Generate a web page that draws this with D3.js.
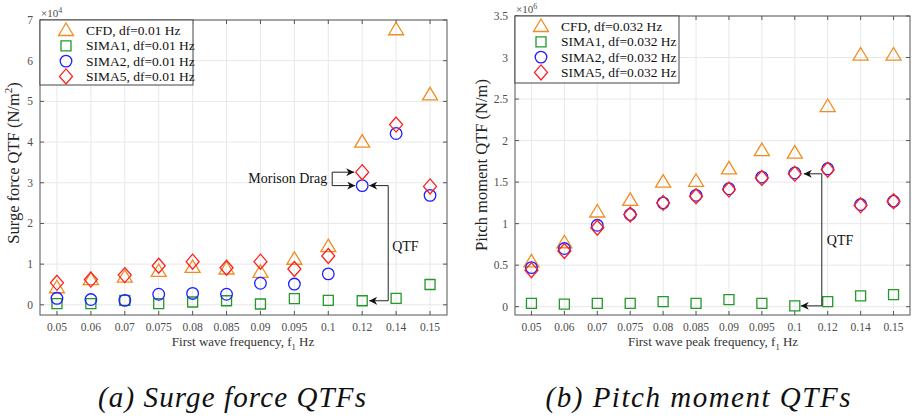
<!DOCTYPE html>
<html>
<head>
<meta charset="utf-8">
<script src="https://d3js.org/d3.v7.min.js"></script>
<style>
  body { margin: 0; padding: 0; background: #fff; }
  svg { display: block; }
  svg text { font-family: "Liberation Serif", "Tinos", "DejaVu Serif", serif; }
</style>
</head>
<body>
<svg id="fig" width="912" height="419"></svg>
<script>
// ---- data ----
const freqs = ["0.05", "0.06", "0.07", "0.075", "0.08", "0.085", "0.09", "0.095", "0.1", "0.12", "0.14", "0.15"];

// surge force QTF, x10^4 N/m^2
const surgeCFD   = [0.42, 0.62, 0.68, 0.82, 0.92, 0.88, 0.80, 1.12, 1.43, 4.00, 6.76, 5.16];
const surgeSIMA1 = [0.03, 0.03, 0.11, 0.03, 0.07, 0.10, 0.02, 0.15, 0.11, 0.10, 0.16, 0.50];
const surgeSIMA2 = [0.16, 0.13, 0.11, 0.26, 0.28, 0.26, 0.53, 0.51, 0.76, 2.93, 4.21, 2.69];
const surgeSIMA5 = [0.54, 0.62, 0.73, 0.96, 1.06, 0.91, 1.06, 0.88, 1.20, 3.26, 4.43, 2.91];

// pitch moment QTF, x10^6 N/m
const pitchCFD   = [0.54, 0.77, 1.14, 1.28, 1.50, 1.51, 1.66, 1.88, 1.85, 2.41, 3.03, 3.03];
const pitchSIMA1 = [0.04, 0.03, 0.04, 0.04, 0.06, 0.04, 0.085, 0.04, 0.01, 0.06, 0.13, 0.145];
const pitchSIMA2 = [0.47, 0.70, 0.98, 1.11, 1.25, 1.34, 1.42, 1.56, 1.61, 1.66, 1.23, 1.27];
const pitchSIMA5 = [0.44, 0.67, 0.95, 1.11, 1.25, 1.33, 1.41, 1.55, 1.60, 1.65, 1.22, 1.27];

const surgeTicks = [0, 1, 2, 3, 4, 5, 6, 7];
const pitchTicks = [0, 0.5, 1, 1.5, 2, 2.5, 3, 3.5];

const surgeLegend = ["CFD, df=0.01 Hz", "SIMA1, df=0.01 Hz", "SIMA2, df=0.01 Hz", "SIMA5, df=0.01 Hz"];
const pitchLegend = ["CFD, df=0.032 Hz", "SIMA1, df=0.032 Hz", "SIMA2, df=0.032 Hz", "SIMA5, df=0.032 Hz"];

// ---- styles ----
const FONT = "'Liberation Serif', Tinos, 'DejaVu Serif', serif";
const styles = [
  { shape: "tri",  color: "#ef8d1f" },
  { shape: "sq",   color: "#22992a" },
  { shape: "circ", color: "#1f1fff" },
  { shape: "dia",  color: "#ff1f1f" }
];

function markerPath(shape) {
  if (shape === "tri")  return "M0,-7.5L7.5,5L-7.5,5Z";
  if (shape === "sq")   return "M-5,-5H5V5H-5Z";
  if (shape === "circ") return "M5.8,0A5.8,5.8 0 1,1 -5.8,0A5.8,5.8 0 1,1 5.8,0Z";
  return "M0,-7.5L6.5,0L0,7.5L-6.5,0Z";
}

const svg = d3.select("#fig").attr("font-family", FONT);

const defs = svg.append("defs");
defs.append("marker")
    .attr("id", "arrow")
    .attr("viewBox", "0 0 10 10")
    .attr("refX", 10).attr("refY", 5)
    .attr("markerWidth", 8).attr("markerHeight", 8)
    .attr("markerUnits", "userSpaceOnUse")
    .attr("orient", "auto")
  .append("path")
    .attr("d", "M0,0L10,5L0,10L3,5Z")
    .attr("fill", "#111");

function drawPanel(cfg) {
  const g = svg.append("g");
  const x = d3.scalePoint().domain(freqs).range([cfg.x0, cfg.x1]).padding(0.5);
  const y = d3.scaleLinear().domain(cfg.ydom).range([cfg.y1, cfg.y0]);

  // grid
  g.selectAll("line.vg").data(freqs).join("line")
    .attr("x1", d => x(d)).attr("x2", d => x(d))
    .attr("y1", cfg.y0).attr("y2", cfg.y1)
    .attr("stroke", "#e8e8e8").attr("stroke-width", 1);
  g.selectAll("line.hg").data(cfg.ticks).join("line")
    .attr("x1", cfg.x0).attr("x2", cfg.x1)
    .attr("y1", d => y(d)).attr("y2", d => y(d))
    .attr("stroke", "#e8e8e8").attr("stroke-width", 1);

  // inward ticks, all four sides
  const tk = 4;
  const ticksG = g.append("g").attr("stroke", "#555").attr("stroke-width", 1);
  freqs.forEach(d => {
    ticksG.append("line").attr("x1", x(d)).attr("x2", x(d)).attr("y1", cfg.y1).attr("y2", cfg.y1 - tk);
    ticksG.append("line").attr("x1", x(d)).attr("x2", x(d)).attr("y1", cfg.y0).attr("y2", cfg.y0 + tk);
  });
  cfg.ticks.forEach(d => {
    ticksG.append("line").attr("x1", cfg.x0).attr("x2", cfg.x0 + tk).attr("y1", y(d)).attr("y2", y(d));
    ticksG.append("line").attr("x1", cfg.x1).attr("x2", cfg.x1 - tk).attr("y1", y(d)).attr("y2", y(d));
  });

  // tick labels
  g.selectAll("text.xt").data(freqs).join("text")
    .attr("x", d => x(d)).attr("y", cfg.y1 + 16)
    .attr("text-anchor", "middle").attr("font-size", 11.5).attr("fill", "#4d4d4d")
    .text(d => d);
  g.selectAll("text.yt").data(cfg.ticks).join("text")
    .attr("x", cfg.x0 - 7).attr("y", d => y(d) + 4)
    .attr("text-anchor", "end").attr("font-size", 11.5).attr("fill", "#4d4d4d")
    .text(d => d);

  // exponent
  const ex = g.append("text").attr("x", cfg.x0 + 1).attr("y", cfg.y0 - 3)
    .attr("font-size", 11).attr("fill", "#4d4d4d");
  ex.append("tspan").text("\u00d710");
  ex.append("tspan").attr("dy", -4).attr("font-size", 8).text(cfg.exp);

  // axis labels
  const xl = g.append("text").attr("x", cfg.xlabX).attr("y", cfg.y1 + 31)
    .attr("text-anchor", "middle").attr("font-size", 13).attr("fill", "#333");
  xl.append("tspan").text(cfg.xlab);
  xl.append("tspan").attr("dy", 4).attr("font-size", 8.5).text("1");
  xl.append("tspan").attr("dy", -4).text(" Hz");

  const yl = g.append("text")
    .attr("transform", `translate(${cfg.ylabX},${cfg.ylabY}) rotate(-90)`)
    .attr("text-anchor", "middle").attr("font-size", 16.5).attr("fill", "#222");
  yl.append("tspan").text(cfg.ylab);
  if (cfg.ysup) {
    yl.append("tspan").attr("dy", -7).attr("font-size", 11).text(cfg.ysup);
    yl.append("tspan").attr("dy", 7).text(")");
  }

  // data markers
  cfg.series.forEach((vals, i) => {
    g.selectAll("path.s" + i).data(vals).join("path")
      .attr("transform", (d, j) => `translate(${x(freqs[j])},${y(d)})`)
      .attr("d", markerPath(styles[i].shape))
      .attr("fill", "none").attr("stroke", styles[i].color).attr("stroke-width", 1.3);
  });

  // box
  g.append("rect").attr("x", cfg.x0).attr("y", cfg.y0)
    .attr("width", cfg.x1 - cfg.x0).attr("height", cfg.y1 - cfg.y0)
    .attr("fill", "none").attr("stroke", "#555").attr("stroke-width", 1);

  // legend
  const lg = g.append("g");
  lg.append("rect").attr("x", cfg.x0).attr("y", cfg.y0)
    .attr("width", cfg.legW).attr("height", cfg.legH)
    .attr("fill", "#fff").attr("stroke", "#444").attr("stroke-width", 1);
  cfg.legend.forEach((t, i) => {
    const ly = cfg.y0 + 10.5 + i * 15.3;
    lg.append("path").attr("transform", `translate(${cfg.x0 + 26},${ly})`)
      .attr("d", markerPath(styles[i].shape))
      .attr("fill", "none").attr("stroke", styles[i].color).attr("stroke-width", 1.3);
    lg.append("text").attr("x", cfg.x0 + 46).attr("y", ly + 4.5)
      .attr("font-size", 13.5).attr("fill", "#111").text(t);
  });

  // caption
  svg.append("text").attr("x", cfg.capX).attr("y", 407)
    .attr("text-anchor", "middle").attr("font-size", 29).attr("font-style", "italic")
    .attr("textLength", cfg.capW).attr("lengthAdjust", "spacing")
    .attr("fill", "#111").text(cfg.caption);

  return { x, y, g };
}

const left = drawPanel({
  x0: 40, x1: 447, y0: 20, y1: 315, ydom: [-0.25, 7], ticks: surgeTicks,
  series: [surgeCFD, surgeSIMA1, surgeSIMA2, surgeSIMA5], legend: surgeLegend,
  legW: 153, legH: 65, exp: "4",
  xlab: "First wave frequency, f", xlabX: 243,
  ylab: "Surge force QTF (N/m", ysup: "2", ylabX: 19, ylabY: 163,
  caption: "(a) Surge force QTFs", capX: 232, capW: 268
});

const right = drawPanel({
  x0: 515, x1: 910, y0: 16, y1: 315, ydom: [-0.1, 3.5], ticks: pitchTicks,
  series: [pitchCFD, pitchSIMA1, pitchSIMA2, pitchSIMA5], legend: pitchLegend,
  legW: 164, legH: 67, exp: "6",
  xlab: "First wave peak frequency, f", xlabX: 713,
  ylab: "Pitch moment QTF (N/m)", ysup: null, ylabX: 487, ylabY: 165,
  caption: "(b) Pitch moment QTFs", capX: 698, capW: 305
});

// ---- annotations ----
function arrowLine(g, pts) {
  g.append("path").attr("d", d3.line()(pts))
    .attr("fill", "none").attr("stroke", "#222").attr("stroke-width", 1)
    .attr("marker-end", "url(#arrow)");
}

// left: Morison Drag bracket
{
  const { x, y, g } = left;
  const cx = x("0.12");
  const yd = y(surgeSIMA5[9]), yc = y(surgeSIMA2[9]), ys = y(surgeSIMA1[9]);
  const bx = cx - 30;
  g.append("text").attr("x", bx - 5).attr("y", (yd + yc) / 2 + 4)
    .attr("text-anchor", "end").attr("font-size", 14).attr("fill", "#111").text("Morison Drag");
  arrowLine(g, [[bx, (yd + yc) / 2], [bx, yd], [cx - 8, yd]]);
  arrowLine(g, [[bx, (yd + yc) / 2], [bx, yc], [cx - 7, yc]]);
  // QTF bracket
  const qx = cx + 26;
  arrowLine(g, [[qx, (yc + ys) / 2], [qx, yc], [cx + 7, yc]]);
  arrowLine(g, [[qx, (yc + ys) / 2], [qx, ys], [cx + 7, ys]]);
  g.append("text").attr("x", qx + 4).attr("y", (yc + ys) / 2 + 8)
    .attr("font-size", 14).attr("fill", "#111").text("QTF");
}

// right: QTF bracket
{
  const { x, y, g } = right;
  const cx = x("0.1");
  const yt = y(pitchSIMA5[8]), yb = y(pitchSIMA1[8]);
  const qx = cx + 27;
  arrowLine(g, [[qx, (yt + yb) / 2], [qx, yt], [cx + 9, yt]]);
  arrowLine(g, [[qx, (yt + yb) / 2], [qx, yb], [cx + 6, yb]]);
  g.append("text").attr("x", qx + 5).attr("y", (yt + yb) / 2 + 5)
    .attr("font-size", 14).attr("fill", "#111").text("QTF");
}
</script>
</body>
</html>
